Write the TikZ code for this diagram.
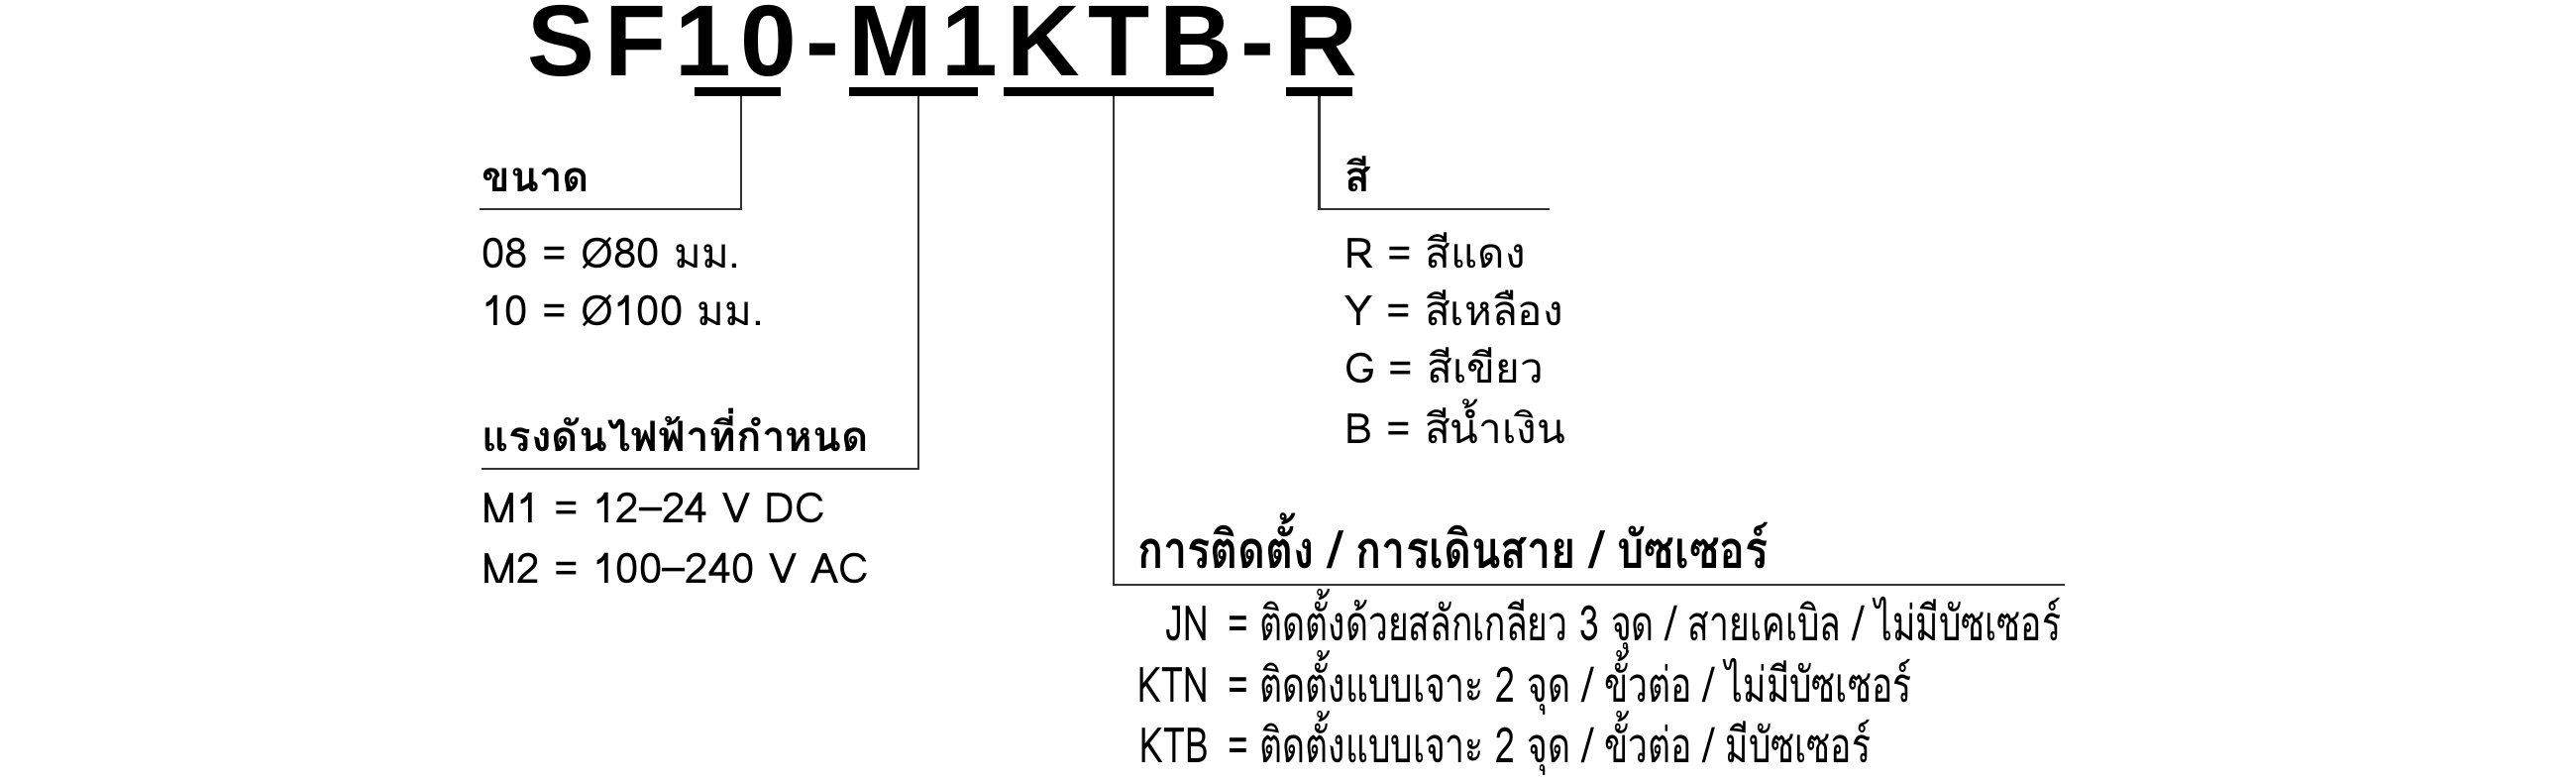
\documentclass[tikz,border=0pt]{standalone}
\usepackage{fontspec}
\setmainfont{Loma}[Script=Thai]
\newfontfamily\titlefont{Liberation Sans}[LetterSpace=9]
\newfontfamily\condfont{Loma}[Script=Thai,FakeStretch=0.72]
\newfontfamily\condheadfont{Loma}[Script=Thai,FakeStretch=0.82]
\tikzset{
  txt/.style={inner sep=0pt, anchor=base west, font=\fontsize{12}{14}\selectfont},
  head/.style={txt, font=\fontsize{12}{14}\selectfont\bfseries},
  cond/.style={inner sep=0pt, anchor=base west, font=\condfont\fontsize{14}{16}\selectfont},
  condhead/.style={cond, font=\condheadfont\fontsize{15}{17}\selectfont\bfseries},
  code/.style={cond, anchor=base east},
  conn/.style={draw=black!80, line width=0.6pt},
  bar/.style={fill=black}
}
\begin{document}
\begin{tikzpicture}[x=0.016582cm, y=-0.016582cm]
  \useasboundingbox (0,0) rectangle (1568,476.4);
  % model code
  \draw (321,46) node[inner sep=0pt, anchor=base west,
      font=\titlefont\fontsize{29}{34}\selectfont\bfseries] (title) {SF10-M1KTB-R};
  \fill[bar] (423,53) rectangle (475,58.5);
  \fill[bar] (517,53) rectangle (595,58.5);
  \fill[bar] (611,53) rectangle (739,58.5);
  \fill[bar] (783,53) rectangle (823,58.5);
  \coordinate (c10) at (451,58.5);
  \coordinate (cM) at (559,58.5);
  \coordinate (cK) at (678,58.5);
  \coordinate (cR) at (803,58.5);
  \coordinate (h10) at (292,127);
  \coordinate (hM) at (293,285);
  \coordinate (hK) at (1257,356);
  \coordinate (hR) at (943,127);
  \begin{scope}[conn]
    \draw (c10) |- (h10);
    \draw (cM) |- (hM);
    \draw (cK) |- (hK);
    \draw (cR) |- (hR);
  \end{scope}
  % size
  \draw
    (293,117) node[head] (size) {ขนาด}
    (293,163) node[txt] (s08) {08 = Ø80 มม.}
    (293,198) node[txt] (s10) {10 = Ø100 มม.};
  % voltage
  \draw
    (293,275) node[head] (volt) {แรงดันไฟฟ้าที่กำหนด}
    (293,318) node[txt] (m1) {M1 = 12–24 V DC}
    (293,355) node[txt] (m2) {M2 = 100–240 V AC};
  % colour
  \draw
    (818,117) node[head] (color) {สี}
    (818,163) node[txt] (red) {R = สีแดง}
    (818,198) node[txt] (yel) {Y = สีเหลือง}
    (818,233) node[txt] (grn) {G = สีเขียว}
    (818,270) node[txt] (blu) {B = สีน้ำเงิน};
  % mounting
  \draw
    (692,346) node[condhead] (mount) {การติดตั้ง / การเดินสาย / บัซเซอร์}
    (736,390) node[code] (jn) {JN}
    (736,427) node[code] (ktn) {KTN}
    (736,464) node[code] (ktb) {KTB}
    (747,390) node[cond] (jntxt) {= ติดตั้งด้วยสลักเกลียว 3 จุด / สายเคเบิล / ไม่มีบัซเซอร์}
    (747,427) node[cond] (ktntxt) {= ติดตั้งแบบเจาะ 2 จุด / ขั้วต่อ / ไม่มีบัซเซอร์}
    (747,464) node[cond] (ktbtxt) {= ติดตั้งแบบเจาะ 2 จุด / ขั้วต่อ / มีบัซเซอร์};
\end{tikzpicture}
\end{document}
